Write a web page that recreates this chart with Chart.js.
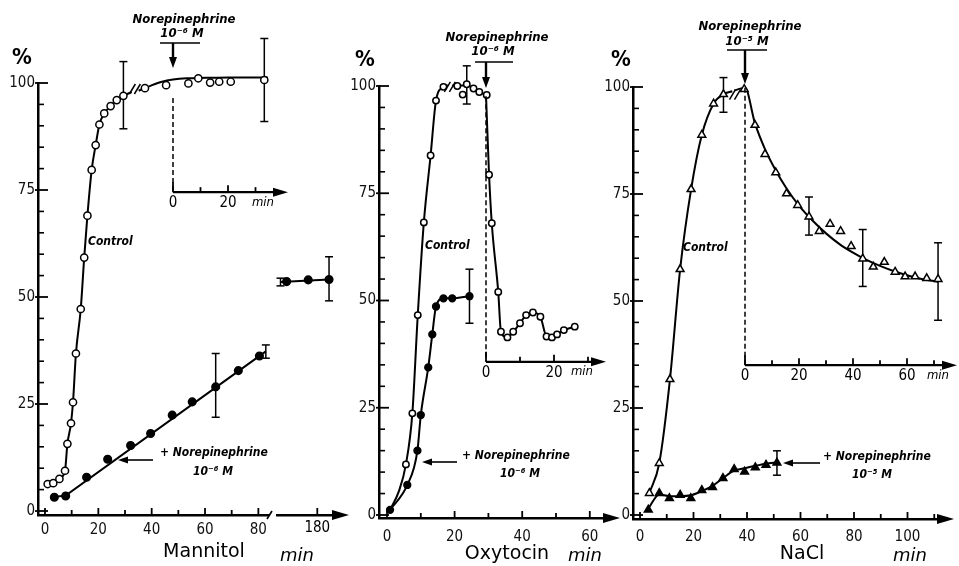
<!DOCTYPE html>
<html lang="en">
<head>
  <meta charset="UTF-8"/>
  <title>Norepinephrine: Mannitol, Oxytocin, NaCl</title>
  <script src="https://cdn.jsdelivr.net/npm/chart.js"></script>
  <style>
    html, body { margin: 0; padding: 0; background: #fff; }
    #wrap { position: relative; width: 959px; height: 566px; overflow: hidden; background: #fff; }
    #wrap canvas { position: absolute; top: 0; }
  </style>
</head>
<body>
  <div id="wrap">
    <canvas id="mannitol" width="360" height="566" style="left:0px"></canvas>
    <canvas id="oxytocin" width="290" height="566" style="left:340px"></canvas>
    <canvas id="nacl" width="359" height="566" style="left:600px"></canvas>
  </div>
<script>
// ---------- data ----------
const yTicks = [0, 25, 50, 75, 100];

// Mannitol
const manTicks = [0, 20, 40, 60, 80];
const manInsetTicks = [0, 20];
const manLateTicks = [180];
const manCtlT = [1.0, 3.1, 5.4, 7.5, 8.4, 9.75, 10.5, 11.6, 13.4, 14.7, 15.9, 17.5, 19.0, 20.4, 22.2, 24.6, 26.9, 29.4];
const manCtlV = [6.3, 6.5, 7.5, 9.4, 15.7, 20.5, 25.4, 36.8, 47.2, 59.2, 69.0, 79.7, 85.5, 90.3, 92.9, 94.6, 96.0, 97.0];
const manCtlFitT = [5.4, 7.5, 8.4, 9.75, 10.5, 11.6, 13.4, 14.7, 15.9, 17.5, 19.0, 20.4, 22.2, 24.6, 26.9, 29.4, 32.5];
const manCtlFitV = [7.5, 9.4, 15.7, 20.5, 25.4, 36.8, 47.2, 59.2, 69.0, 79.7, 85.5, 90.3, 92.9, 94.6, 96.0, 97.0, 97.9];
const manPostT = [-10.2, -6.2, -2.5, 1.1, 5.6, 9.2, 13.5, 16.8, 21.0, 24.4, 28.0, 33.2];
const manPostV = [98.8, 102.1, 99.5, 101.6, 99.9, 101.1, 100.1, 100.3, 100.3, 101.9, 102.6, 100.7];
const manPostFitT = [-12.5, -8, -4, 0, 5, 12, 20, 28, 34.5];
const manPostFitV = [98.2, 99.4, 100.3, 100.8, 101.1, 101.2, 101.3, 101.3, 101.3];
const manNorT = [3.5, 7.75, 15.6, 23.5, 32.1, 39.6, 47.7, 55.2, 64.0, 72.5, 80.4];
const manNorV = [3.2, 3.5, 7.9, 12.1, 15.3, 18.1, 22.4, 25.5, 29.0, 32.8, 36.2];
const manNorFitT = [3.5, 7.75, 82.8];
const manNorFitV = [3.3, 3.6, 37.3];
const manLateT = [168.5, 176.6, 184.4];
const manLateV = [53.6, 54.0, 54.1];
const manLateFitT = [166.2, 184.4];
const manLateFitV = [53.5, 54.1];
const manCtlErr = { x: [29.4], lo: [89.3], hi: [105.0] };
const manPostErr = { x: [33.2], lo: [91.0], hi: [110.4] };
const manNorErr = { x: [64.0, 82.8], lo: [21.9, 35.7], hi: [36.8, 38.8] };
const manLateErr = { x: [166.2, 184.4], lo: [52.6, 49.1], hi: [54.4, 59.4] };

// Oxytocin
const oxyTicks = [0, 20, 40, 60];
const oxyInsetTicks = [0, 20];
const oxyCtlT = [5.6, 7.5, 9.1, 10.9, 12.9, 14.5, 16.7, 20.8, 22.4, 23.6, 25.6, 27.3, 29.5];
const oxyCtlV = [11.8, 23.7, 46.6, 68.2, 83.8, 96.6, 99.8, 100.0, 98.0, 100.4, 99.4, 98.6, 97.9];
const oxyCtlFitT = [0.9, 3.5, 5.6, 7.5, 9.1, 10.9, 12.9, 14.5, 16.7, 18.0];
const oxyCtlFitV = [1.2, 5.5, 11.8, 23.7, 46.6, 68.2, 83.8, 96.6, 99.8, 100.2];
const oxyPlateauFitT = [19.3, 20.8, 23.6, 25.6, 27.3, 29.5];
const oxyPlateauFitV = [100.2, 100.0, 100.2, 99.4, 98.6, 97.9];
const oxyPostT = [0.9, 1.7, 3.6, 4.4, 6.3, 8.0, 10.0, 11.8, 13.8, 16.0, 17.8, 19.4, 20.9, 22.9, 26.1];
const oxyPostV = [79.3, 68.0, 52.0, 42.7, 41.4, 42.7, 44.7, 46.6, 47.2, 46.2, 41.6, 41.4, 42.1, 43.1, 43.9];
const oxyNorT = [0.9, 6.0, 9.0, 10.0, 12.2, 13.4, 14.5, 16.7, 19.3, 24.4];
const oxyNorV = [1.2, 7.0, 15.0, 23.3, 34.4, 42.1, 48.6, 50.5, 50.5, 51.0];
const oxyCtlErr = { x: [23.6], lo: [95.8], hi: [104.7] };
const oxyNorErr = { x: [24.4], lo: [44.7], hi: [57.3] };

// NaCl
const naclTicks = [0, 20, 40, 60, 80, 100];
const naclInsetTicks = [0, 20, 40, 60];
const naclCtlT = [3.5, 7.2, 11.2, 15.0, 19.1, 23.1, 27.5, 31.2];
const naclCtlV = [5.1, 12.1, 31.7, 57.4, 76.1, 88.8, 96.1, 98.3];
const naclCtlFitT = [3.5, 7.2, 11.2, 15.0, 19.1, 23.1, 27.5, 31.2, 34.5];
const naclCtlFitV = [5.1, 12.1, 31.7, 57.4, 76.1, 88.8, 96.1, 98.3, 99.0];
const naclPostT = [-0.3, 3.7, 7.4, 11.4, 15.4, 19.5, 23.7, 27.5, 31.5, 35.4, 39.3, 43.6, 47.5, 51.6, 55.6, 59.3, 63.0, 67.3, 71.5];
const naclPostV = [99.5, 91.1, 84.3, 80.0, 75.1, 72.4, 69.7, 66.3, 68.0, 66.3, 62.8, 59.9, 58.0, 59.1, 56.8, 55.7, 55.7, 55.3, 55.1];
const naclPostFitT = [-4, 0, 3.7, 7.4, 11.4, 15.4, 20, 25, 30, 35, 40, 45, 50, 55, 60, 65, 71.5];
const naclPostFitV = [99.2, 99.8, 91.5, 85.5, 80.5, 76.3, 72.3, 68.8, 65.8, 63.3, 61.3, 59.6, 58.2, 57.0, 56.0, 55.2, 54.5];
const naclNorT = [3.1, 7.2, 11.0, 15.0, 19.0, 23.1, 27.1, 31.0, 35.2, 39.1, 43.1, 47.1, 51.2];
const naclNorV = [1.2, 5.1, 3.9, 4.7, 3.9, 5.8, 6.5, 8.6, 10.7, 10.1, 11.1, 11.7, 12.2];
const naclNorFitT = [3.1, 7.2, 11.0, 15.0, 19.0, 23.1, 27.1, 31.0, 35.2, 39.1, 43.1, 47.1, 51.2];
const naclNorFitV = [1.5, 4.8, 4.4, 4.4, 4.6, 5.6, 6.8, 8.6, 10.4, 10.9, 11.5, 12.0, 12.3];
const naclCtlErr = { x: [31.2], lo: [94.1], hi: [102.2] };
const naclPostErr = { x: [23.7, 43.6, 71.5], lo: [65.4, 53.4, 45.5], hi: [74.3, 66.7, 63.6] };
const naclNorErr = { x: [51.2], lo: [9.3], hi: [15.0] };

// ---------- helpers ----------
const F = "'DejaVu Sans Condensed', 'DejaVu Sans', sans-serif";
const F2 = "'DejaVu Sans', sans-serif";

function xy(xs, ys) { return xs.map((x, i) => ({ x: x, y: ys[i] })); }
// linear range so that value v0 lands on page pixel p0, area spans page pixels a..b
function span(v0, p0, ppu, a, b) { return { min: v0 - (p0 - a) / ppu, max: v0 + (b - p0) / ppu }; }

function pts(xs, ys, axis, style, filled, r, errs) {
  return {
    data: xy(xs, ys), xAxisID: axis, yAxisID: 'y', showLine: false,
    pointStyle: style, pointRadius: r, pointBorderWidth: 1.5,
    pointBackgroundColor: filled ? '#000' : '#fff', pointBorderColor: '#000',
    clip: false, order: 0, errorBars: errs
  };
}
function curve(xs, ys, axis, tension) {
  return {
    data: xy(xs, ys), xAxisID: axis, yAxisID: 'y', showLine: true, pointRadius: 0,
    borderColor: '#000', borderWidth: 2, tension: tension === undefined ? 0.4 : tension,
    cubicInterpolationMode: tension === 0 ? 'default' : 'monotone', clip: false, order: 1
  };
}

function seg(c, x1, y1, x2, y2, w) { c.lineWidth = w; c.beginPath(); c.moveTo(x1, y1); c.lineTo(x2, y2); c.stroke(); }
function head(c, x, y, dir, len, half) {
  c.beginPath();
  if (dir === 'right') { c.moveTo(x, y - half); c.lineTo(x + len, y); c.lineTo(x, y + half); }
  else if (dir === 'left') { c.moveTo(x, y - half); c.lineTo(x - len, y); c.lineTo(x, y + half); }
  else { c.moveTo(x - half, y); c.lineTo(x, y + len); c.lineTo(x + half, y); }
  c.closePath(); c.fill();
}
function txt(c, s, x, y, font, align) {
  c.font = font; c.textAlign = align || 'center'; c.textBaseline = 'middle'; c.fillText(s, x, y);
}

function decorPlugin(L, D) {
  return {
    id: 'decor',
    beforeDatasetsDraw(chart) {
      const c = chart.ctx, s = chart.scales;
      c.save(); c.strokeStyle = '#000';
      chart.data.datasets.forEach(ds => {
        const e = ds.errorBars; if (!e) return;
        const sx = s[ds.xAxisID];
        e.x.forEach((v, i) => {
          const px = sx.getPixelForValue(v), p1 = s.y.getPixelForValue(e.lo[i]), p2 = s.y.getPixelForValue(e.hi[i]);
          seg(c, px, p1, px, p2, 1.5); seg(c, px - 4, p1, px + 4, p1, 1.5); seg(c, px - 4, p2, px + 4, p2, 1.5);
        });
      });
      c.restore();
    },
    afterDraw(chart) {
      const c = chart.ctx, s = chart.scales, a = chart.chartArea, o = L.left;
      c.save();
      c.strokeStyle = '#000'; c.fillStyle = '#000';

      // y axis ticks (inward)
      for (let v = 0; v <= 100; v += 5) {
        const py = s.y.getPixelForValue(v);
        if (v % 25 === 0) seg(c, a.left - 3, py, a.left + 10, py, 1.8);
        else seg(c, a.left, py, a.left + 6, py, 1.6);
      }
      // x axis ticks (inward) and arrow
      for (let v = 0; v <= L.xMinorMax; v += 10) {
        const px = s.x.getPixelForValue(v);
        seg(c, px, a.bottom, px, a.bottom - (v % 20 === 0 ? 7 : 5), 1.8);
      }
      head(c, a.right - 1, a.bottom, 'right', 17, 5);

      // broken time axis (Mannitol)
      if (D.axisBreak) {
        const bx = D.axisBreak - o;
        c.fillStyle = '#fff'; c.fillRect(bx - 1, a.bottom - 3, 7, 6); c.fillStyle = '#000';
        seg(c, bx - 3, a.bottom + 4, bx + 2, a.bottom - 4, 1.6);
        L.lateTicks.forEach(v => {
          const px = s.xb.getPixelForValue(v);
          seg(c, px, a.bottom, px, a.bottom - 7, 1.8);
          c.font = '15px ' + F; c.textAlign = 'center'; c.textBaseline = 'top';
          c.fillText(String(v), px, a.bottom + L.xPad);
        });
      }

      // breaks on the control curves
      D.curveBreaks.forEach(b => {
        const px = s.x.getPixelForValue(b[0]), py = s.y.getPixelForValue(b[1]);
        [-2.5, 2.5].forEach(d => seg(c, px + d - 3, py + 5, px + d + 3, py - 5, 1.5));
      });

      // inset time axis after norepinephrine
      const I = D.inset, iy = s.y.getPixelForValue(I.y), ix = s.xi.getPixelForValue(0), tip = I.tip - o;
      seg(c, ix, iy, tip - 14, iy, 2.2); head(c, tip - 15, iy, 'right', 15, 4.5);
      for (let v = 0; v <= I.minorMax; v += 10) {
        const px = s.xi.getPixelForValue(v);
        seg(c, px, iy, px, iy - (v === 0 ? 10 : (v % 20 === 0 ? 7 : 5)), 1.8);
      }
      I.labels.forEach(v => txt(c, String(v), s.xi.getPixelForValue(v), iy + 11, '15px ' + F));
      txt(c, 'min', I.minX - o, iy + 10, 'italic 13px ' + F);
      c.setLineDash([5, 3]);
      seg(c, ix, s.y.getPixelForValue(I.dashTop), ix, iy, 1.5);
      c.setLineDash([]);

      // norepinephrine addition marker
      const T = D.top;
      txt(c, 'Norepinephrine', T.x1 - o, T.y1, 'italic bold 13px ' + F);
      txt(c, T.conc, T.x2 - o, T.y2, 'italic bold 13px ' + F);
      seg(c, T.ul[0] - o, T.ul[2], T.ul[1] - o, T.ul[2], 1.6);
      seg(c, ix, T.ul[2], ix, T.tipY - 10, 2.4);
      head(c, ix, T.tipY - 11, 'down', 11, 4);

      // + norepinephrine curve label
      const B = D.bottom;
      seg(c, B.ax1 - o, B.ay, B.ax2 - o + 9, B.ay, 1.6);
      head(c, B.ax2 - o + 10, B.ay, 'left', 10, 3.5);
      txt(c, '+ Norepinephrine', B.tx - o, B.ty, 'italic bold 12px ' + F, 'left');
      txt(c, B.conc, B.cx - o, B.cy, 'italic bold 12px ' + F);

      txt(c, 'Control', D.control[0] - o, D.control[1], 'italic bold 12px ' + F, 'left');
      txt(c, '%', D.pct[0] - o, D.pct[1], 'bold 22px ' + F);
      txt(c, D.title[0], D.title[1] - o, D.title[2], '19px ' + F2);
      txt(c, 'min', D.minLabel[0] - o, D.minLabel[1], 'italic 18px ' + F2);
      c.restore();
    }
  };
}

function makeChart(L, D, datasets) {
  const aL = L.left + L.axisW, aR = L.left + L.width - L.padR, aT = L.padT, aB = L.bottom;
  const scales = {
    x: Object.assign(span(0, L.x0, L.xppu, aL, aR), {
      type: 'linear', position: 'bottom',
      afterBuildTicks: sc => { sc.ticks = L.xTicks.map(v => ({ value: v })); },
      afterFit: sc => { sc.height = 566 - aB; },
      border: { color: '#000', width: 2.5 },
      grid: { drawOnChartArea: false, drawTicks: false },
      ticks: { font: { family: F, size: 15 }, color: '#111', padding: L.xPad, maxRotation: 0, autoSkip: false }
    }),
    xi: Object.assign(span(0, L.xi0, L.xippu, aL, aR), { type: 'linear', display: false }),
    y: {
      type: 'linear', position: 'left',
      min: -(aB - L.y0) / L.yppu, max: (L.y0 - aT) / L.yppu,
      afterBuildTicks: sc => { sc.ticks = yTicks.map(v => ({ value: v })); },
      afterFit: sc => { sc.width = L.axisW; },
      border: { color: '#000', width: 2.5 },
      grid: { drawOnChartArea: false, drawTicks: false },
      ticks: { font: { family: F, size: 15 }, color: '#111', padding: 3, autoSkip: false }
    }
  };
  if (L.xb) scales.xb = Object.assign(span(L.xb.v, L.xb.p, L.xb.ppu, aL, aR), { type: 'linear', display: false });

  return new Chart(document.getElementById(L.id), {
    type: 'scatter',
    data: { datasets: datasets },
    options: {
      responsive: false, animation: false, events: [],
      layout: { padding: { left: 0, right: L.padR, top: L.padT, bottom: 0 } },
      plugins: { legend: { display: false }, tooltip: { enabled: false } },
      scales: scales
    },
    plugins: [decorPlugin(L, D)]
  });
}

// ---------- panels ----------
makeChart(
  { id: 'mannitol', left: 0, width: 360, axisW: 38, padR: 27, padT: 83, bottom: 515,
    y0: 511, yppu: 4.28, x0: 45, xppu: 2.667, xi0: 173, xippu: 2.75,
    xb: { v: 180, p: 317.3, ppu: 2.667 }, xTicks: manTicks, lateTicks: manLateTicks, xPad: 6, xMinorMax: 80 },
  { pct: [22, 58], title: ['Mannitol', 204, 552], minLabel: [297, 556], control: [88, 242],
    inset: { y: 74.5, tip: 288, labels: manInsetTicks, minorMax: 30, minX: 263, dashTop: 96.5 },
    top: { x1: 184, y1: 20, x2: 182, y2: 34, conc: '10⁻⁶ M', ul: [160, 200, 43], tipY: 68 },
    bottom: { ax1: 153, ax2: 118, ay: 460, tx: 160, ty: 453, cx: 213, cy: 472, conc: '10⁻⁶ M' },
    curveBreaks: [[33.7, 98.6]], axisBreak: 270 },
  [
    pts(manCtlT, manCtlV, 'x', 'circle', false, 3.6, manCtlErr),
    pts(manPostT, manPostV, 'xi', 'circle', false, 3.6, manPostErr),
    pts(manNorT, manNorV, 'x', 'circle', true, 3.8, manNorErr),
    pts(manLateT, manLateV, 'xb', 'circle', true, 3.8, manLateErr),
    curve(manCtlFitT, manCtlFitV, 'x'),
    curve(manPostFitT, manPostFitV, 'xi'),
    curve(manNorFitT, manNorFitV, 'x', 0),
    curve(manLateFitT, manLateFitV, 'xb', 0)
  ]
);

const oxyJoin = [{ x: 0, y: oxyCtlV[oxyCtlV.length - 1] }];
makeChart(
  { id: 'oxytocin', left: 340, width: 290, axisW: 39, padR: 26, padT: 86, bottom: 518,
    y0: 515, yppu: 4.29, x0: 387, xppu: 3.38, xi0: 486, xippu: 3.4, xTicks: oxyTicks, xPad: 10, xMinorMax: 60 },
  { pct: [365, 60], title: ['Oxytocin', 507, 554], minLabel: [585, 556], control: [425, 246],
    inset: { y: 35.7, tip: 606, labels: oxyInsetTicks, minorMax: 30, minX: 582, dashTop: 97.6 },
    top: { x1: 497, y1: 38, x2: 493, y2: 52, conc: '10⁻⁶ M', ul: [475, 513, 62], tipY: 88 },
    bottom: { ax1: 457, ax2: 422, ay: 462, tx: 462, ty: 456, cx: 520, cy: 474, conc: '10⁻⁶ M' },
    curveBreaks: [[18.6, 99.8]] },
  [
    pts(oxyCtlT, oxyCtlV, 'x', 'circle', false, 3.2, oxyCtlErr),
    pts(oxyPostT, oxyPostV, 'xi', 'circle', false, 3.2, null),
    pts(oxyNorT, oxyNorV, 'x', 'circle', true, 3.4, oxyNorErr),
    curve(oxyCtlFitT, oxyCtlFitV, 'x'),
    curve(oxyPlateauFitT, oxyPlateauFitV, 'x', 0.3),
    Object.assign(curve([], [], 'xi', 0.15), { data: oxyJoin.concat(xy(oxyPostT, oxyPostV)) }),
    curve(oxyNorT, oxyNorV, 'x')
  ]
);

makeChart(
  { id: 'nacl', left: 600, width: 359, axisW: 33, padR: 21, padT: 87, bottom: 519,
    y0: 515, yppu: 4.28, x0: 640, xppu: 2.675, xi0: 745, xippu: 2.7, xTicks: naclTicks, xPad: 9, xMinorMax: 110 },
  { pct: [621, 60], title: ['NaCl', 802, 554], minLabel: [910, 556], control: [683, 248],
    inset: { y: 35, tip: 957, labels: naclInsetTicks, minorMax: 70, minX: 938, dashTop: 99.8 },
    top: { x1: 750, y1: 27, x2: 747, y2: 42, conc: '10⁻⁵ M', ul: [727, 767, 50], tipY: 84 },
    bottom: { ax1: 820, ax2: 783, ay: 463, tx: 823, ty: 457, cx: 872, cy: 475, conc: '10⁻⁵ M' },
    curveBreaks: [[35.5, 98.2]] },
  [
    pts(naclCtlT, naclCtlV, 'x', 'triangle', false, 4.5, naclCtlErr),
    pts(naclPostT, naclPostV, 'xi', 'triangle', false, 4.5, naclPostErr),
    pts(naclNorT, naclNorV, 'x', 'triangle', true, 4.5, naclNorErr),
    curve(naclCtlFitT, naclCtlFitV, 'x'),
    curve(naclPostFitT, naclPostFitV, 'xi'),
    curve(naclNorFitT, naclNorFitV, 'x')
  ]
);
</script>
</body>
</html>
